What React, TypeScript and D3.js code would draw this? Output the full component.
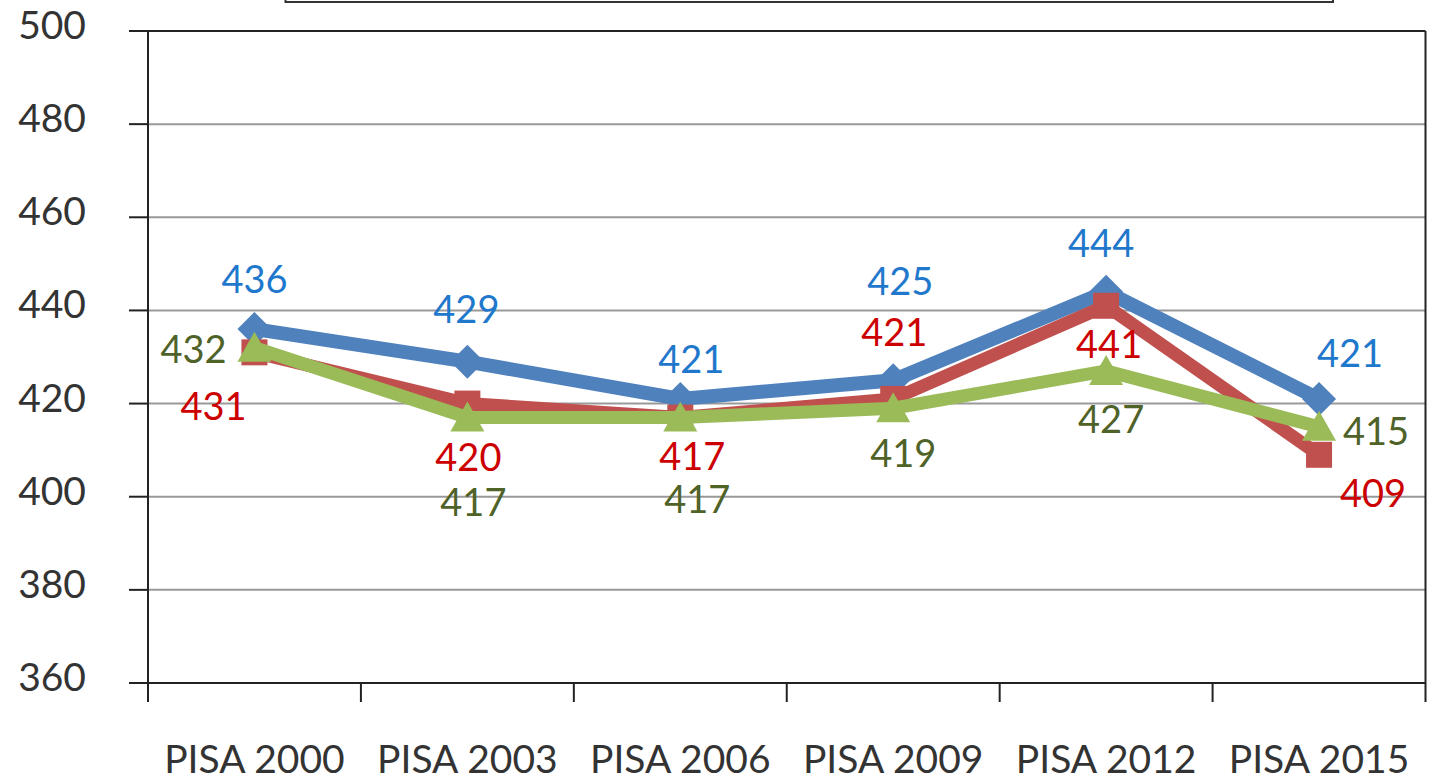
import React from "react";
import * as d3 from "d3";

const categories = ["PISA 2000", "PISA 2003", "PISA 2006", "PISA 2009", "PISA 2012", "PISA 2015"];
const yTicks = [360, 380, 400, 420, 440, 460, 480, 500];
const seriesA = [436, 429, 421, 425, 444, 421];
const seriesB = [431, 420, 417, 421, 441, 409];
const seriesC = [432, 417, 417, 419, 427, 415];

// label offsets (layout only)
const offA: [number, number][] = [[0, -36], [-1, -39], [11, -26], [7, -85], [-5, -35], [31, -32]];
const offB: [number, number][] = [[-41, 68], [1, 67], [12, 52], [1, -53], [3, 52], [54, 52]];
const offC: [number, number][] = [[-61, 15], [6, 98], [17, 95], [10, 59], [5, 62], [57, 18]];

const W = 1434, H = 781;
const L = 148, R = 1425.5, T = 31, B = 683;
const FONT = "Lato, 'Open Sans', sans-serif";

export default function App() {
  const x = d3.scaleBand<string>().domain(categories).range([L, R]).padding(0);
  const y = d3.scaleLinear().domain([360, 500]).range([B, T]);
  const cx = (i: number) => (x(categories[i]) as number) + x.bandwidth() / 2;
  const line = d3.line<number>().x((_, i) => cx(i)).y((v) => y(v));

  const series = [
    { vals: seriesA, color: "#4F81BD", label: "#1F78CC", off: offA, marker: "diamond", width: 14 },
    { vals: seriesB, color: "#C0504D", label: "#CC0000", off: offB, marker: "square", width: 13 },
    { vals: seriesC, color: "#9BBB59", label: "#4F6228", off: offC, marker: "triangle", width: 13 },
  ];

  const marker = (type: string, px: number, py: number, color: string, key: string) => {
    if (type === "diamond") {
      const r = 17;
      return <path key={key} d={`M${px},${py - r}L${px + r},${py}L${px},${py + r}L${px - r},${py}Z`} fill={color} />;
    }
    if (type === "square") {
      const s = 13;
      return <rect key={key} x={px - s} y={py - s} width={2 * s} height={2 * s} fill={color} />;
    }
    const hw = 17, hh = 16;
    return <path key={key} d={`M${px},${py - hh}L${px + hw},${py + hh - 2}L${px - hw},${py + hh - 2}Z`} fill={color} />;
  };

  return (
    <svg width={W} height={H} style={{ position: "absolute", left: 0, top: 0, background: "#fff" }}>
      <rect x={0} y={0} width={W} height={H} fill="#fff" />
      {/* clipped legend box at top */}
      <rect x={285.5} y={-40} width={1047.5} height={42} fill="none" stroke="#333" strokeWidth={2} />
      {/* gridlines */}
      {yTicks.map((t) => (
        <line key={"g" + t} x1={L} x2={R} y1={y(t)} y2={y(t)} stroke={t === 500 || t === 360 ? "#222" : "#999"} strokeWidth={2} />
      ))}
      {/* y ticks and labels */}
      {yTicks.map((t) => (
        <g key={"yt" + t}>
          <line x1={129} x2={L} y1={y(t)} y2={y(t)} stroke="#222" strokeWidth={2} />
          <text x={86} y={y(t) + 8} textAnchor="end" fontFamily={FONT} fontSize={39} fill="#333">{t}</text>
        </g>
      ))}
      {/* frame */}
      <line x1={L} x2={L} y1={T} y2={B + 19} stroke="#222" strokeWidth={2} />
      <line x1={R} x2={R} y1={T} y2={B + 19} stroke="#222" strokeWidth={2} />
      {/* x ticks */}
      {categories.map((c) => (
        <line key={"xt" + c} x1={x(c) as number} x2={x(c) as number} y1={B} y2={B + 19} stroke="#222" strokeWidth={2} />
      ))}
      {categories.map((c, i) => (
        <text key={"xl" + c} x={cx(i)} y={773} textAnchor="middle" fontFamily={FONT} fontSize={39} fill="#333">{c}</text>
      ))}
      {/* lines */}
      {series.map((s, si) => (
        <g key={"s" + si}>
          <path d={line(s.vals) as string} fill="none" stroke={s.color} strokeWidth={s.width} strokeLinejoin="miter" />
          {s.vals.map((v, i) => marker(s.marker, cx(i), y(v), s.color, "m" + si + "-" + i))}
        </g>
      ))}
      {/* data labels */}
      {series.map((s, si) =>
        s.vals.map((v, i) => (
          <text key={"l" + si + "-" + i} x={cx(i) + s.off[i][0]} y={y(v) + s.off[i][1]} textAnchor="middle" fontFamily={FONT} fontSize={38} fill={s.label}>{v}</text>
        ))
      )}
    </svg>
  );
}
